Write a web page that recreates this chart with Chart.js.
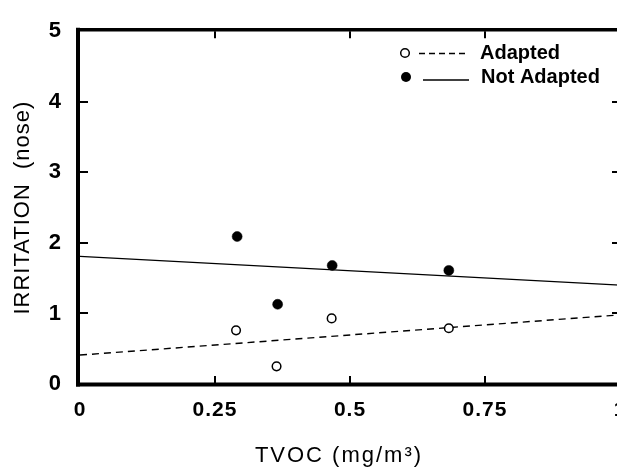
<!DOCTYPE html>
<html><head><meta charset="utf-8">
<script src="https://cdn.jsdelivr.net/npm/chart.js@4/dist/chart.umd.min.js"></script>
<style>
html,body{margin:0;padding:0;overflow:hidden;background:#fff;width:617px;height:472px}
#wrap{position:absolute;left:0;top:0;width:660px;height:472px}
</style>
</head><body>
<div id="wrap"><canvas id="c" width="660" height="472"></canvas></div>
<script>
// ---- data ----
const xTicks = [0, 0.25, 0.5, 0.75, 1];
const yTicks = [0, 1, 2, 3, 4, 5];
const seriesNames = ['Adapted', 'Not Adapted'];
const adaptedX = [0.289, 0.364, 0.466, 0.683];
const adaptedY = [0.76, 0.25, 0.93, 0.79];
const notAdaptedX = [0.291, 0.366, 0.467, 0.683];
const notAdaptedY = [2.09, 1.13, 1.68, 1.61];
const fitX = [0, 1];
const adaptedFitY = [0.41, 0.98];
const notAdaptedFitY = [1.81, 1.40];
const xTitle = 'TVOC (mg/m\u00B3)';
const yTitle = 'IRRITATION  (nose)';

const pts = (xs, ys) => xs.map((x, i) => ({x: x, y: ys[i]}));
const FONT = '"Liberation Sans", Arial, Helvetica, sans-serif';

const frame = {
  id: 'frame',
  beforeDraw(chart) { chart.ctx.letterSpacing = '1px'; },
  afterDraw(chart) {
    const ctx = chart.ctx, a = chart.chartArea;
    const xs = chart.scales.x, ys = chart.scales.y;
    ctx.save();
    ctx.letterSpacing = '0px';
    ctx.strokeStyle = '#000';
    // frame
    ctx.lineCap = 'square';
    ctx.lineWidth = 4;
    ctx.beginPath(); ctx.moveTo(a.left - 2, a.top - 1.5); ctx.lineTo(a.left - 2, a.bottom + 0.5); ctx.stroke();
    ctx.beginPath(); ctx.moveTo(a.left - 2, a.bottom + 0.5); ctx.lineTo(a.right, a.bottom + 0.5); ctx.stroke();
    ctx.lineWidth = 3.5;
    ctx.beginPath(); ctx.moveTo(a.left - 2, a.top - 1.5); ctx.lineTo(a.right, a.top - 1.5); ctx.stroke();
    ctx.beginPath(); ctx.moveTo(a.right, a.top - 1.5); ctx.lineTo(a.right, a.bottom); ctx.stroke();
    // inward ticks
    ctx.lineCap = 'butt';
    ctx.lineWidth = 2;
    xs.ticks.forEach(t => {
      if (t.value <= xs.min || t.value >= xs.max) return;
      const px = Math.round(xs.getPixelForValue(t.value));
      ctx.beginPath(); ctx.moveTo(px, a.bottom); ctx.lineTo(px, a.bottom - 8); ctx.stroke();
      ctx.beginPath(); ctx.moveTo(px, a.top); ctx.lineTo(px, a.top + 7); ctx.stroke();
    });
    ys.ticks.forEach(t => {
      if (t.value <= ys.min || t.value >= ys.max) return;
      const py = Math.round(ys.getPixelForValue(t.value));
      ctx.beginPath(); ctx.moveTo(a.left, py); ctx.lineTo(a.left + 8, py); ctx.stroke();
      ctx.beginPath(); ctx.moveTo(a.right, py); ctx.lineTo(a.right - 8, py); ctx.stroke();
    });
    // x axis title
    ctx.fillStyle = '#000';
    ctx.letterSpacing = '2px';
    ctx.font = 'normal 22px ' + FONT;
    ctx.textAlign = 'center';
    ctx.textBaseline = 'middle';
    ctx.fillText(xTitle, 339, 456);
    // legend
    ctx.letterSpacing = '0px';
    ctx.font = 'bold 20px ' + FONT;
    ctx.textBaseline = 'middle';
    ctx.textAlign = 'left';
    // row 1: Adapted
    ctx.lineWidth = 1.5;
    ctx.beginPath(); ctx.arc(405, 53, 4.3, 0, Math.PI * 2); ctx.fillStyle = '#fff'; ctx.fill(); ctx.stroke();
    ctx.lineWidth = 1.4;
    ctx.setLineDash([6, 4]);
    ctx.beginPath(); ctx.moveTo(419, 53.5); ctx.lineTo(469, 53.5); ctx.stroke();
    ctx.setLineDash([]);
    ctx.fillStyle = '#000';
    ctx.fillText(chart.data.datasets[0].label, 480, 53);
    // row 2: Not Adapted
    ctx.beginPath(); ctx.arc(406, 77, 5, 0, Math.PI * 2); ctx.fill();
    ctx.lineWidth = 1.3;
    ctx.beginPath(); ctx.moveTo(423, 80); ctx.lineTo(469, 80); ctx.stroke();
    ctx.fillText(chart.data.datasets[1].label, 481, 77);
    ctx.restore();
  }
};

new Chart(document.getElementById('c'), {
  type: 'scatter',
  data: {
    datasets: [
      {label: seriesNames[0], data: pts(adaptedX, adaptedY), pointStyle: 'circle', pointRadius: 4.3,
       pointBorderWidth: 1.5, pointBackgroundColor: '#fff', pointBorderColor: '#000', showLine: false, order: 0},
      {label: seriesNames[1], data: pts(notAdaptedX, notAdaptedY), pointStyle: 'circle', pointRadius: 5,
       pointBorderWidth: 0.5, pointBackgroundColor: '#000', pointBorderColor: '#000', showLine: false, order: 0},
      {label: seriesNames[0] + ' fit', data: pts(fitX, adaptedFitY), showLine: true, pointRadius: 0,
       borderColor: '#000', borderWidth: 1.4, borderDash: [7, 5], fill: false, order: 2},
      {label: seriesNames[1] + ' fit', data: pts(fitX, notAdaptedFitY), showLine: true, pointRadius: 0,
       borderColor: '#000', borderWidth: 1.3, fill: false, order: 2}
    ]
  },
  options: {
    responsive: false,
    animation: false,
    devicePixelRatio: 1,
    layout: {padding: {left: 0, top: 24, right: 40, bottom: 0}},
    plugins: {legend: {display: false}, tooltip: {enabled: false}},
    scales: {
      x: {
        type: 'linear', min: 0, max: 1,
        afterBuildTicks: s => { s.ticks = xTicks.map(v => ({value: v})); },
        afterFit: s => { s.height = 88; },
        grid: {display: false, drawTicks: false},
        border: {display: false},
        ticks: {color: '#000', padding: 14, maxRotation: 0, autoSkip: false,
                font: {family: FONT, size: 21, weight: 'bold'}, callback: v => String(v)},
        title: {display: false}
      },
      y: {
        type: 'linear', min: 0, max: 5,
        afterBuildTicks: s => { s.ticks = yTicks.map(v => ({value: v})); },
        afterFit: s => { s.width = 80; },
        grid: {display: false, drawTicks: false},
        border: {display: false},
        ticks: {color: '#000', padding: 18, autoSkip: false,
                font: {family: FONT, size: 22, weight: 'bold'}, callback: v => String(v)},
        title: {display: true, text: yTitle, color: '#000', padding: {top: 10, bottom: 0},
                font: {family: FONT, size: 22, weight: 'normal'}}
      }
    }
  },
  plugins: [frame]
});
</script>
</body></html>
